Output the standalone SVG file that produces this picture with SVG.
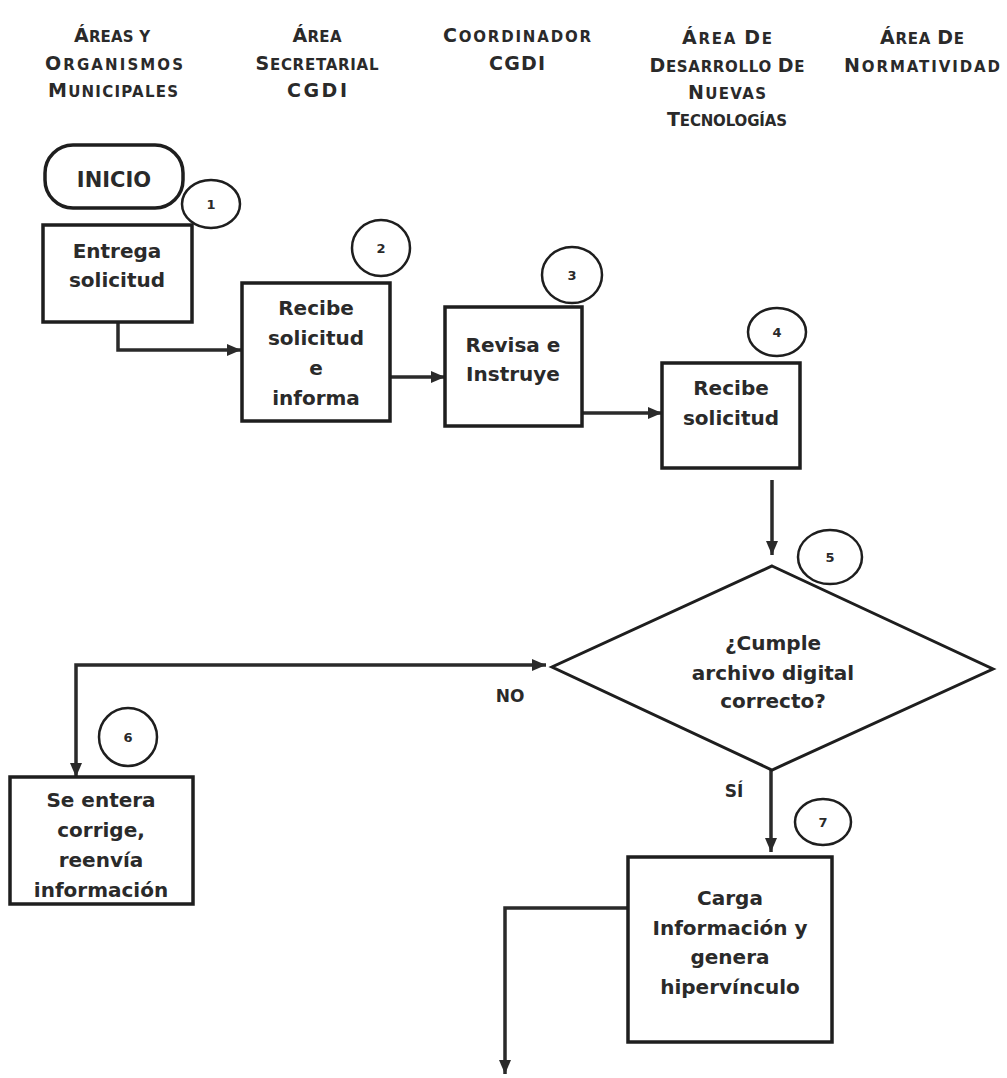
<svg xmlns="http://www.w3.org/2000/svg" width="1007" height="1078" viewBox="0 0 1007 1078">
<defs>
<style>
.hdr{font-family:"DejaVu Sans","Liberation Sans",sans-serif;font-weight:bold;font-size:15px;fill:#2a2a2a;text-anchor:middle}
.C{font-size:19px}
.t{font-family:"DejaVu Sans","Liberation Sans",sans-serif;font-weight:bold;font-size:20px;fill:#2a2a2a;text-anchor:middle}
.num{font-family:"DejaVu Sans","Liberation Sans",sans-serif;font-weight:bold;font-size:13px;fill:#2a2a2a;text-anchor:middle}
.box{fill:none;stroke:#1e1e1e;stroke-width:3.5}
.circ{fill:none;stroke:#1e1e1e;stroke-width:2.5}
.con{fill:none;stroke:#2a2a2a;stroke-width:3.5}
</style>
<marker id="ah" viewBox="0 0 14 12" refX="14" refY="6" markerWidth="14" markerHeight="12" markerUnits="userSpaceOnUse" orient="auto-start-reverse">
<path d="M0,0 L14,6 L0,12 Z" fill="#2a2a2a"/>
</marker>
</defs>
<rect width="1007" height="1078" fill="#ffffff"/>

<g id="headers">
<text class="hdr" x="112" y="42" textLength="76" lengthAdjust="spacing"><tspan class="C">Á</tspan>REAS Y</text>
<text class="hdr" x="114" y="70" textLength="138" lengthAdjust="spacing"><tspan class="C">O</tspan>RGANISMOS</text>
<text class="hdr" x="113" y="97" textLength="130" lengthAdjust="spacing"><tspan class="C">M</tspan>UNICIPALES</text>
<text class="hdr" x="317" y="42" textLength="49" lengthAdjust="spacing"><tspan class="C">Á</tspan>REA</text>
<text class="hdr" x="317" y="70" textLength="123" lengthAdjust="spacing"><tspan class="C">S</tspan>ECRETARIAL</text>
<text class="hdr C" x="317" y="97" textLength="60" lengthAdjust="spacing">CGDI</text>
<text class="hdr" x="517" y="42" textLength="148" lengthAdjust="spacing"><tspan class="C">C</tspan>OORDINADOR</text>
<text class="hdr C" x="517" y="70" textLength="56" lengthAdjust="spacing">CGDI</text>
<text class="hdr" x="727" y="44" textLength="90" lengthAdjust="spacing"><tspan class="C">Á</tspan>REA <tspan class="C">D</tspan>E</text>
<text class="hdr" x="727" y="72" textLength="155" lengthAdjust="spacing"><tspan class="C">D</tspan>ESARROLLO <tspan class="C">D</tspan>E</text>
<text class="hdr" x="727" y="99" textLength="78" lengthAdjust="spacing"><tspan class="C">N</tspan>UEVAS</text>
<text class="hdr" x="727" y="126" textLength="120" lengthAdjust="spacing"><tspan class="C">T</tspan>ECNOLOGÍAS</text>
<text class="hdr" x="922" y="44" textLength="84" lengthAdjust="spacing"><tspan class="C">Á</tspan>REA <tspan class="C">D</tspan>E</text>
<text class="hdr" x="922" y="72" textLength="156" lengthAdjust="spacing"><tspan class="C">N</tspan>ORMATIVIDAD</text>
</g>

<g id="connectors">
<path class="con" d="M118,322 V350 H241" marker-end="url(#ah)"/>
<path class="con" d="M390,377 H445" marker-end="url(#ah)"/>
<path class="con" d="M582,413 H662" marker-end="url(#ah)"/>
<path class="con" d="M772,480 V555" marker-end="url(#ah)"/>
<path class="con" d="M76,777 V665 H546" marker-start="url(#ah)" marker-end="url(#ah)"/>
<path class="con" d="M771,770 V852" marker-end="url(#ah)"/>
<path class="con" d="M628,908 H505 V1074" marker-end="url(#ah)"/>
<text class="t" x="510" y="702" style="font-size:17px">NO</text>
<text class="t" x="734" y="797" style="font-size:17px">SÍ</text>
</g>

<g id="n_inicio">
<rect class="box" x="45" y="145" width="138" height="63" rx="28" ry="28"/>
<text class="t" x="114" y="187" style="font-size:21px">INICIO</text>
</g>
<g id="c1"><ellipse class="circ" cx="211" cy="204" rx="29" ry="24"/><text class="num" x="211" y="209">1</text></g>

<g id="n1">
<rect class="box" x="43" y="225" width="149" height="97"/>
<text class="t" x="117" y="258">Entrega</text>
<text class="t" x="117" y="287">solicitud</text>
</g>

<g id="c2"><ellipse class="circ" cx="381" cy="248" rx="29" ry="28"/><text class="num" x="381" y="253">2</text></g>
<g id="n2">
<rect class="box" x="242" y="283" width="148" height="138"/>
<text class="t" x="316" y="315">Recibe</text>
<text class="t" x="316" y="345">solicitud</text>
<text class="t" x="316" y="375">e</text>
<text class="t" x="316" y="405">informa</text>
</g>

<g id="c3"><ellipse class="circ" cx="572" cy="275" rx="30" ry="28"/><text class="num" x="572" y="280">3</text></g>
<g id="n3">
<rect class="box" x="445" y="307" width="137" height="119"/>
<text class="t" x="513" y="352">Revisa e</text>
<text class="t" x="513" y="381">Instruye</text>
</g>

<g id="c4"><ellipse class="circ" cx="777" cy="332" rx="29" ry="24"/><text class="num" x="777" y="337">4</text></g>
<g id="n4">
<rect class="box" x="662" y="363" width="138" height="105"/>
<text class="t" x="731" y="395">Recibe</text>
<text class="t" x="731" y="425">solicitud</text>
</g>

<g id="c5"><ellipse class="circ" cx="830" cy="557" rx="32" ry="27"/><text class="num" x="830" y="562">5</text></g>
<g id="n5">
<polygon points="772,566 993,669 772,770 552,667" fill="none" stroke="#1e1e1e" stroke-width="3"/>
<text class="t" x="773" y="650">¿Cumple</text>
<text class="t" x="773" y="680">archivo digital</text>
<text class="t" x="773" y="708">correcto?</text>
</g>

<g id="c6"><ellipse class="circ" cx="128" cy="737" rx="29" ry="29"/><text class="num" x="128" y="742">6</text></g>
<g id="n6">
<rect class="box" x="10" y="777" width="183" height="127"/>
<text class="t" x="101" y="807">Se entera</text>
<text class="t" x="101" y="837">corrige,</text>
<text class="t" x="101" y="867">reenvía</text>
<text class="t" x="101" y="897">información</text>
</g>

<g id="c7"><ellipse class="circ" cx="823" cy="822" rx="28" ry="23"/><text class="num" x="823" y="827">7</text></g>
<g id="n7">
<rect class="box" x="628" y="857" width="204" height="185"/>
<text class="t" x="730" y="905">Carga</text>
<text class="t" x="730" y="935">Información y</text>
<text class="t" x="730" y="964">genera</text>
<text class="t" x="730" y="994">hipervínculo</text>
</g>
</svg>
